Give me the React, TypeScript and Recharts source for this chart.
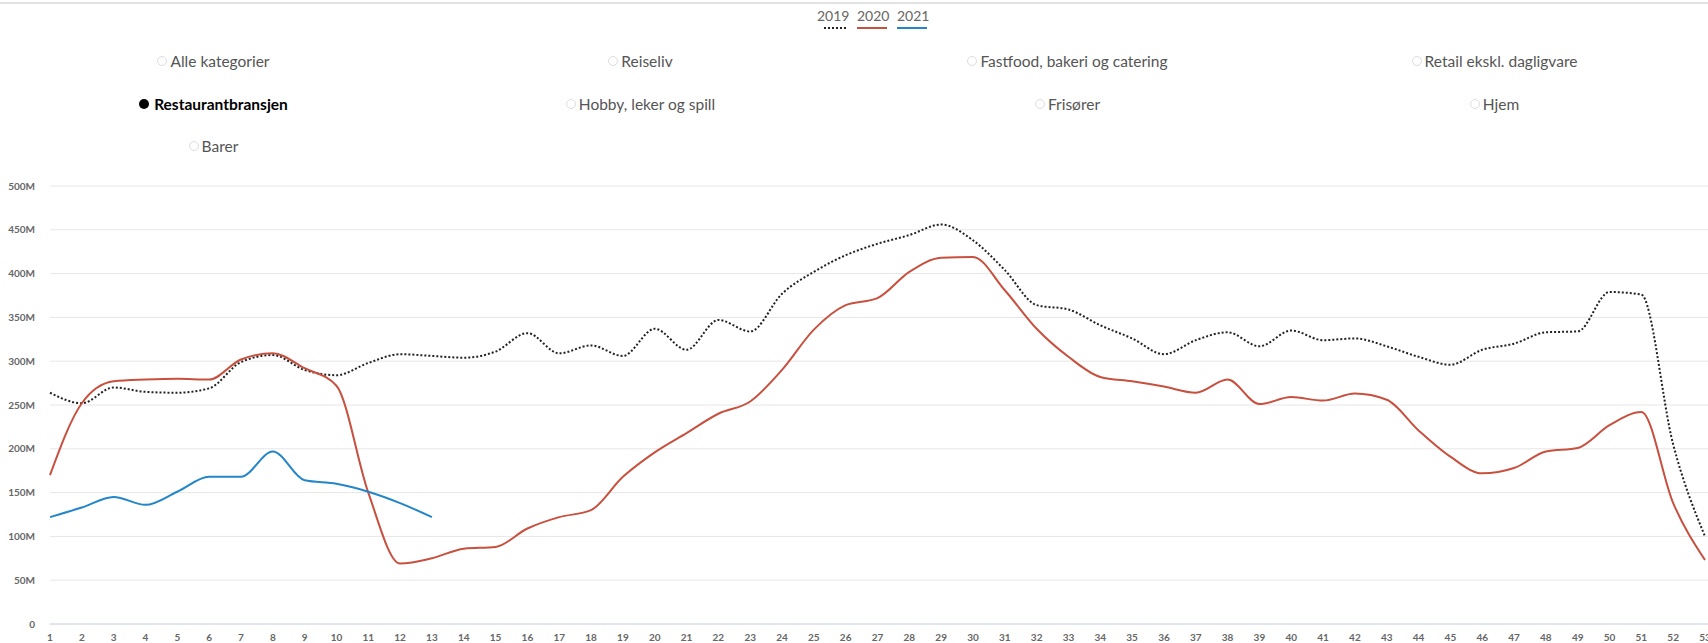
import { LineChart, Line, XAxis, YAxis, CartesianGrid } from "recharts";

const weeks = [
  1, 2, 3, 4, 5, 6, 7, 8, 9, 10, 11, 12, 13, 14, 15, 16, 17, 18, 19, 20, 21, 22, 23, 24, 25, 26,
  27, 28, 29, 30, 31, 32, 33, 34, 35, 36, 37, 38, 39, 40, 41, 42, 43, 44, 45, 46, 47, 48, 49, 50,
  51, 52, 53,
];

// values in millions NOK
const sales2019 = [
  264, 252, 270, 265, 264, 269, 299, 307, 290, 284, 298, 308, 306, 304, 311, 332, 309, 318, 306,
  337, 313, 347, 334, 377, 402, 421, 434, 444, 456, 438, 404, 364, 359, 341, 326, 308, 324, 333,
  317, 335, 324, 326, 317, 305, 296, 313, 320, 333, 334, 379, 376, 205, 100,
];

const sales2020 = [
  170, 252, 277, 279, 280, 279, 302, 309, 292, 272, 150, 69, 75, 86, 88, 109, 122, 130, 168, 196,
  218, 240, 254, 290, 336, 364, 372, 402, 418, 419, 381, 337, 305, 282, 277, 271, 264, 279, 251,
  259, 255, 263, 256, 221, 191, 172, 178, 197, 201, 227, 242, 138, 73,
];

const sales2021 = [122, 133, 145, 136, 151, 168, 168, 197, 164, 160, 151, 138, 122];

const yTicks = [0, 50, 100, 150, 200, 250, 300, 350, 400, 450, 500];

const years = ["2019", "2020", "2021"];

const categories = [
  "Alle kategorier",
  "Reiseliv",
  "Fastfood, bakeri og catering",
  "Retail ekskl. dagligvare",
  "Restaurantbransjen",
  "Hobby, leker og spill",
  "Frisører",
  "Hjem",
  "Barer",
];
const selected = "Restaurantbransjen";

const RED = "#c8503f";
const BLUE = "#2386c8";
const BLACK = "#222";

const data = weeks.map((w, i) => ({
  week: w,
  y2019: sales2019[i],
  y2020: sales2020[i],
  y2021: i < sales2021.length ? sales2021[i] : null,
}));

const FONT = "Lato, 'Noto Sans', sans-serif";

function YearLegend() {
  const swatch = (y: string) => {
    if (y === "2019")
      return { borderTop: `2px dotted ${BLACK}`, width: 22, marginLeft: 7 };
    return { borderTop: `2.5px solid ${y === "2020" ? RED : BLUE}`, width: 30, marginLeft: 0 };
  };
  return (
    <div style={{ position: "absolute", left: 817, top: 6, display: "flex", gap: 10 }}>
      {years.map((y) => (
        <div key={y} style={{ display: "flex", flexDirection: "column", width: 30 }}>
          <span style={{ fontSize: 14, color: "#666", lineHeight: "20px", textAlign: "center" }}>{y}</span>
          <div style={{ ...swatch(y), marginTop: 1 }} />
        </div>
      ))}
    </div>
  );
}

function CategoryPicker() {
  const rowY = [61, 104, 146];
  return (
    <>
      {categories.map((c, i) => {
        const col = i % 4;
        const row = Math.floor(i / 4);
        const on = c === selected;
        return (
          <div
            key={c}
            style={{
              position: "absolute",
              left: col * 427,
              width: 427,
              top: rowY[row] - 11,
              height: 22,
              display: "flex",
              justifyContent: "center",
              alignItems: "center",
              fontSize: 15.5,
              color: on ? "#000" : "#555",
              fontWeight: on ? 700 : 400,
            }}
          >
            <span
              style={{
                display: "inline-block",
                width: on ? 10 : 8,
                height: on ? 10 : 8,
                borderRadius: "50%",
                background: on ? "#000" : "#fff",
                border: on ? "none" : "1px solid #ddd",
                marginRight: on ? 5 : 3,
              }}
            />
            {c}
          </div>
        );
      })}
    </>
  );
}

export default function App() {
  const tick = { fill: "#666", fontSize: 10, fontWeight: 700, fontFamily: FONT };
  return (
    <div
      style={{
        position: "fixed",
        top: 0,
        left: 0,
        width: 1708,
        height: 643,
        background: "#fff",
        fontFamily: FONT,
        overflow: "hidden",
      }}
    >
      <div style={{ position: "absolute", top: 2, left: 0, width: 1708, height: 2, background: "#e2e2e2" }} />
      <YearLegend />
      <CategoryPicker />
      <div style={{ position: "absolute", top: 0, left: 0 }}>
        <LineChart width={1708} height={643} data={data} margin={{ top: 186, right: 0, bottom: 0, left: 0 }}>
          <CartesianGrid vertical={false} stroke="#e6e6e6" />
          <XAxis
            dataKey="week"
            type="number"
            domain={[1, 53]}
            ticks={weeks}
            interval={0}
            padding={{ left: 0, right: 3 }}
            tick={tick}
            tickLine={false}
            tickMargin={4}
            axisLine={{ stroke: "#ccd6eb" }}
            height={19}
          />
          <YAxis
            type="number"
            domain={[0, 500]}
            ticks={yTicks}
            interval={0}
            width={50}
            tick={tick}
            tickLine={false}
            axisLine={false}
            tickMargin={9}
            tickFormatter={(v: number) => (v === 0 ? "0" : `${v}M`)}
          />
          <Line
            type="monotone"
            dataKey="y2019"
            stroke={BLACK}
            strokeWidth={2}
            strokeDasharray="2 2"
            dot={false}
            activeDot={false}
            isAnimationActive={false}
          />
          <Line
            type="monotone"
            dataKey="y2020"
            stroke={RED}
            strokeWidth={2}
            dot={false}
            activeDot={false}
            isAnimationActive={false}
          />
          <Line
            type="monotone"
            dataKey="y2021"
            stroke={BLUE}
            strokeWidth={2}
            dot={false}
            activeDot={false}
            connectNulls={false}
            isAnimationActive={false}
          />
        </LineChart>
      </div>
    </div>
  );
}
